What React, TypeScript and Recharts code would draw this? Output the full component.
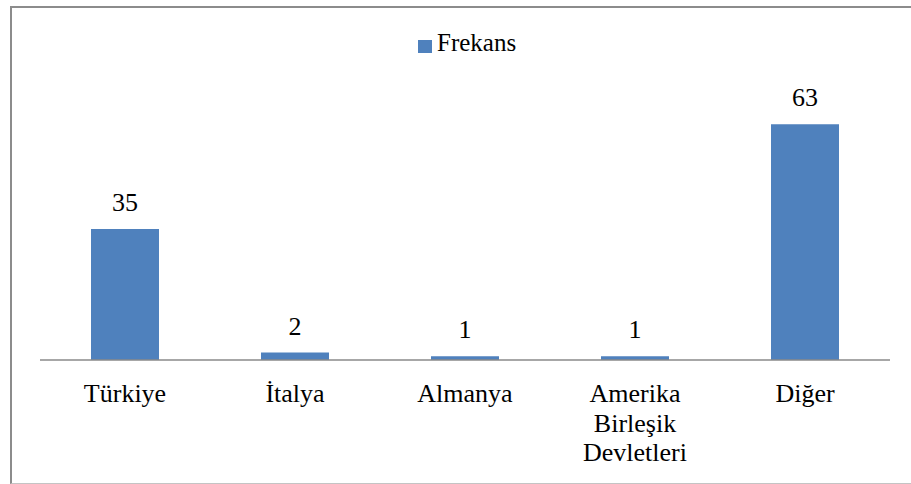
import { BarChart, Bar, XAxis, YAxis, LabelList } from 'recharts';

const categories = ['Türkiye', 'İtalya', 'Almanya', 'Amerika Birleşik Devletleri', 'Diğer'];
const frekans = [35, 2, 1, 1, 63];
const yDomain = [0, 70];

const data = categories.map((name, i) => ({ name, Frekans: frekans[i] }));

const FONT = "'Liberation Serif', 'DejaVu Serif', 'Noto Serif', 'Times New Roman', serif";
const BLUE = '#4f81bd';
const textStyle = { fontFamily: FONT };

function CategoryTick(props: any) {
  const { x, y, payload } = props;
  const lines: string[] = String(payload.value).split(' ');
  return (
    <text x={x} y={y + 42} textAnchor="middle" style={textStyle} fontSize={26} fill="#000">
      {lines.map((line, i) => (
        <tspan key={i} x={x} dy={i === 0 ? 0 : 29.5}>
          {line}
        </tspan>
      ))}
    </text>
  );
}

function ValueLabel(props: any) {
  const { x, y, width, value } = props;
  return (
    <text x={x + width / 2} y={y - 18} textAnchor="middle" style={textStyle} fontSize={26} fill="#000">
      {value}
    </text>
  );
}

export default function App() {
  return (
    <div style={{ position: 'fixed', left: 0, top: 0, width: 911, height: 484, overflow: 'hidden', background: '#fff' }}>
      <div
        style={{
          position: 'absolute',
          left: 10,
          top: 6,
          width: 920,
          height: 475,
          borderTop: '2px solid #8c8c8c',
          borderLeft: '2px solid #8c8c8c',
          borderBottom: '1px solid #c4c4c4',
        }}
      />
      {/* legend */}
      <div style={{ position: 'absolute', left: 418, top: 40, width: 14, height: 13, background: BLUE }} />
      <div
        style={{
          position: 'absolute',
          left: 437,
          top: 29,
          fontFamily: FONT,
          fontSize: 25,
          lineHeight: '28px',
          color: '#000',
          whiteSpace: 'nowrap',
        }}
      >
        Frekans
      </div>
      <div style={{ position: 'absolute', left: 0, top: 0 }}>
        <BarChart
          width={911}
          height={484}
          data={data}
          margin={{ top: 98, right: 21, left: 40, bottom: 0 }}
          barCategoryGap="30%"
        >
          <XAxis
            dataKey="name"
            interval={0}
            tickSize={0}
            tickMargin={0}
            tickLine={false}
            axisLine={{ stroke: '#8a8a8a', strokeWidth: 1.5 }}
            tick={<CategoryTick />}
            height={124}
          />
          <YAxis hide domain={yDomain} />
          <Bar dataKey="Frekans" fill={BLUE} isAnimationActive={false}>
            <LabelList dataKey="Frekans" content={<ValueLabel />} />
          </Bar>
        </BarChart>
      </div>
    </div>
  );
}
